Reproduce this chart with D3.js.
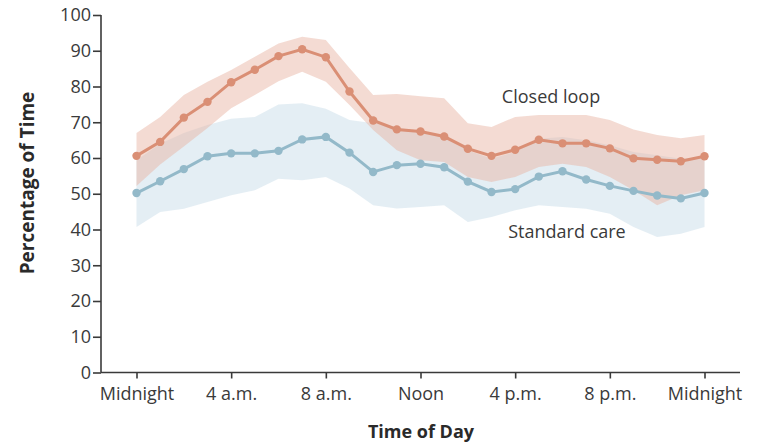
<!DOCTYPE html>
<html>
<head>
<meta charset="utf-8">
<script src="https://cdn.jsdelivr.net/npm/d3@7"></script>
<style>
  body { margin: 0; background: #fff; }
  svg { display: block; font-family: "Open Sans", sans-serif; }
</style>
</head>
<body>
<div id="chart"></div>
<script>
var hours = d3.range(0, 25)

var closedLoop = [60.6, 64.5, 71.3, 75.7, 81.2, 84.7, 88.5, 90.4, 88.2, 78.6, 70.5, 68.0, 67.4,
  66.0, 62.6, 60.6, 62.3, 65.1, 64.1, 64.1, 62.7, 59.9, 59.5, 59.1, 60.5]
var closedHigh = [67.0, 71.5, 77.6, 81.3, 84.6, 88.3, 92.0, 93.9, 93.0, 85.2, 77.6, 77.9, 77.3,
  76.7, 69.7, 68.7, 71.5, 72.0, 72.0, 72.0, 70.6, 68.0, 66.4, 65.5, 66.4]
var closedLow = [52.2, 58.2, 63.2, 68.4, 73.9, 77.6, 81.5, 84.1, 81.3, 74.8, 67.8, 62.2, 59.4,
  58.9, 54.7, 53.3, 54.7, 57.5, 58.4, 57.5, 54.7, 51.0, 46.8, 49.6, 51.0]

var standardCare = [50.2, 53.5, 56.9, 60.5, 61.3, 61.3, 62.0, 65.2, 65.9, 61.5, 56.1, 58.0, 58.4,
  57.4, 53.4, 50.5, 51.3, 54.8, 56.3, 54.0, 52.2, 50.8, 49.5, 48.7, 50.2]
var standardHigh = [59.4, 64.0, 67.0, 69.2, 71.0, 71.5, 75.0, 75.3, 73.8, 70.6, 69.7, 68.7, 67.0,
  65.9, 62.2, 59.8, 61.7, 65.4, 65.9, 65.0, 63.6, 61.7, 60.8, 59.8, 60.3]
var standardLow = [40.7, 44.9, 45.8, 47.7, 49.6, 51.0, 54.2, 53.8, 54.7, 51.5, 46.8, 45.9, 46.3,
  46.8, 42.1, 43.5, 45.4, 46.8, 46.3, 45.8, 44.4, 40.7, 37.9, 38.8, 40.7]

var xTickHours = [0, 4, 8, 12, 16, 20, 24]
var xTickLabels = ['Midnight', '4 a.m.', '8 a.m.', 'Noon', '4 p.m.', '8 p.m.', 'Midnight']
var yTicks = d3.range(0, 101, 10)

var W = 757, H = 442

var svg = d3.select('#chart').append('svg')
  .attr('width', W)
  .attr('height', H)

var x = d3.scaleLinear().domain([-1.5, 25.5]).range([101, 740])
var y = d3.scaleLinear().domain([0, 100]).range([372.5, 15])

// bands
var band = function(lo, hi){
  return d3.area()
    .x(function(d){ return x(d) })
    .y0(function(d, i){ return y(lo[i]) })
    .y1(function(d, i){ return y(hi[i]) })
}

svg.append('path')
  .datum(hours)
  .attr('d', band(standardLow, standardHigh))
  .attr('fill', '#c9dde9')
  .attr('fill-opacity', 0.5)

svg.append('path')
  .datum(hours)
  .attr('d', band(closedLow, closedHigh))
  .attr('fill', '#e8b4a2')
  .attr('fill-opacity', 0.48)

// lines + points
var series = [
  { vals: standardCare, color: '#93b9c9' },
  { vals: closedLoop, color: '#da8f75' }
]

series.forEach(function(s){
  var line = d3.line()
    .x(function(d){ return x(d) })
    .y(function(d, i){ return y(s.vals[i]) })
  svg.append('path')
    .datum(hours)
    .attr('d', line)
    .attr('fill', 'none')
    .attr('stroke', s.color)
    .attr('stroke-width', 3)
  svg.selectAll(null)
    .data(hours)
    .enter().append('circle')
    .attr('cx', function(d){ return x(d) })
    .attr('cy', function(d, i){ return y(s.vals[i]) })
    .attr('r', 4.2)
    .attr('fill', s.color)
})

// axes
var yAxis = d3.axisLeft(y).tickValues(yTicks).tickSize(8).tickPadding(2)
var gy = svg.append('g').attr('transform', 'translate(101,0)').call(yAxis)

var xAxis = d3.axisBottom(x).tickValues(xTickHours).tickSize(6).tickPadding(9)
  .tickFormat(function(d, i){ return xTickLabels[i] })
var gx = svg.append('g').attr('transform', 'translate(0,372.5)').call(xAxis)

;[gx, gy].forEach(function(g){
  g.select('.domain').attr('stroke', '#3a3a3a').attr('stroke-width', 1.6)
    .attr('d', g === gx ? 'M101,0H740' : 'M0,15V372.5')
  g.selectAll('.tick line').attr('stroke', '#3a3a3a').attr('stroke-width', 1.6)
  g.selectAll('.tick text').attr('fill', '#3a3a3a').style('font-size', '18px')
    .style('font-family', '"Open Sans", sans-serif')
})

// titles
svg.append('text')
  .attr('x', 421).attr('y', 438)
  .attr('text-anchor', 'middle')
  .attr('font-weight', 'bold')
  .attr('font-size', 18)
  .attr('fill', '#2a2a2a')
  .text('Time of Day')

svg.append('text')
  .attr('transform', 'translate(34,183) rotate(-90)')
  .attr('text-anchor', 'middle')
  .attr('font-weight', 'bold')
  .attr('font-size', 19)
  .attr('fill', '#2a2a2a')
  .text('Percentage of Time')

svg.append('text')
  .attr('x', 551).attr('y', 103)
  .attr('text-anchor', 'middle')
  .attr('font-size', 18)
  .attr('fill', '#3a3a3a')
  .text('Closed loop')

svg.append('text')
  .attr('x', 567).attr('y', 238)
  .attr('text-anchor', 'middle')
  .attr('font-size', 18)
  .attr('fill', '#3a3a3a')
  .text('Standard care')
</script>
</body>
</html>
